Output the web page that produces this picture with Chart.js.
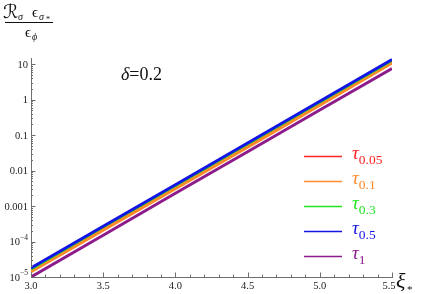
<!DOCTYPE html>
<html>
<head>
<meta charset="utf-8">
<script src="https://cdn.jsdelivr.net/npm/chart.js@4/dist/chart.umd.min.js"></script>
<style>
    html, body { margin: 0; padding: 0; background: #fff; }
</style>
</head>
<body>
<canvas id="chart" width="421" height="294"></canvas>
<script>
// xi_* values along the x axis
const xi = [3.0, 3.5, 4.0, 4.5, 5.0, 5.5];

// R_sigma eps_sigma* / eps_phi
const tau005 = [1.5e-5, 2.2e-4, 3.3e-3, 0.049, 0.74, 11.4];
const tau01  = [1.4e-5, 2.1e-4, 3.1e-3, 0.046, 0.70, 10.8];
const tau03  = [1.7e-5, 2.6e-4, 3.8e-3, 0.057, 0.86, 12.9];
const tau05  = [1.8e-5, 2.7e-4, 4.0e-3, 0.060, 0.90, 13.5];
const tau1   = [1.0e-5, 1.5e-4, 2.3e-3, 0.034, 0.51, 7.6];

const seriesNames = ['0.05', '0.1', '0.3', '0.5', '1'];
const seriesColors = ['#ff2424', '#ff8a2a', '#1fe61f', '#1414e6', '#8c1c8c'];
const seriesData = [tau005, tau01, tau03, tau05, tau1];
const drawOrder = [3, 2, 1, 0, 4];

const xTicks = [3.0, 3.5, 4.0, 4.5, 5.0, 5.5];
const yTicks = [
    { v: 10, base: '10', exp: '' },
    { v: 1, base: '1', exp: '' },
    { v: 0.1, base: '0.1', exp: '' },
    { v: 0.01, base: '0.01', exp: '' },
    { v: 0.001, base: '0.001', exp: '' },
    { v: 1e-4, base: '10', exp: '\u22124' },
    { v: 1e-5, base: '10', exp: '\u22125' }
];

const SERIF = '"Liberation Serif", "DejaVu Serif", serif';
const AXIS_COLOR = '#6e6e6e';

// Inward ticks, tick labels, fraction label, delta note and legend
const decorPlugin = {
    id: 'decor',
    afterDraw(chart) {
        const ctx = chart.ctx;
        const xs = chart.scales.x;
        const ys = chart.scales.y;
        const area = chart.chartArea;
        ctx.save();

        // x ticks (every 0.1, major every 0.5)
        ctx.strokeStyle = AXIS_COLOR;
        ctx.lineWidth = 1;
        for (let i = 0; i <= 25; i++) {
            const v = 3 + i * 0.1;
            const px = Math.round(xs.getPixelForValue(v)) + 0.5;
            const len = (i % 5 === 0) ? 4.5 : 2.5;
            ctx.beginPath();
            ctx.moveTo(px, area.bottom);
            ctx.lineTo(px, area.bottom - len);
            ctx.stroke();
        }

        // y ticks on log scale
        for (let n = -5; n <= 1; n++) {
            for (let k = 1; k <= 9; k++) {
                const v = k * Math.pow(10, n);
                if (v < ys.min || v > ys.max) continue;
                const py = Math.round(ys.getPixelForValue(v)) + 0.5;
                const len = k === 1 ? 4.5 : 2;
                ctx.beginPath();
                ctx.moveTo(area.left, py);
                ctx.lineTo(area.left + len, py);
                ctx.stroke();
            }
        }

        // x tick labels
        ctx.fillStyle = '#222';
        ctx.textBaseline = 'middle';
        ctx.textAlign = 'center';
        ctx.font = '10.5px ' + SERIF;
        xTicks.forEach(v => {
            const px = xs.getPixelForValue(v) - (v === 5.5 ? 3 : 0);
            ctx.fillText(v.toFixed(1), px, area.bottom + 9);
        });

        // y tick labels with superscripts
        yTicks.forEach(t => {
            const py = ys.getPixelForValue(t.v);
            const right = area.left - 3;
            ctx.font = '10.5px ' + SERIF;
            if (t.exp) {
                ctx.font = '7.5px ' + SERIF;
                const ew = ctx.measureText(t.exp).width;
                ctx.textAlign = 'left';
                ctx.fillText(t.exp, right - ew, py - 4);
                ctx.font = '10.5px ' + SERIF;
                ctx.textAlign = 'right';
                ctx.fillText(t.base, right - ew, py + 1);
            } else {
                ctx.textAlign = 'right';
                ctx.fillText(t.base, right, py + 1);
            }
        });

        // y axis label as a fraction
        ctx.textBaseline = 'alphabetic';
        ctx.textAlign = 'left';
        ctx.fillStyle = '#111';
        ctx.font = '19px "DejaVu Sans", ' + SERIF;
        ctx.fillText('\u211B', 3, 18);
        ctx.font = 'italic 10px ' + SERIF;
        ctx.fillText('\u03C3', 18, 20);
        ctx.font = '15px ' + SERIF;
        ctx.fillText('\u03F5', 32, 17);
        ctx.font = 'italic 10px ' + SERIF;
        ctx.fillText('\u03C3', 39, 20);
        ctx.font = '8px ' + SERIF;
        ctx.fillText('*', 46, 22);
        ctx.strokeStyle = '#111';
        ctx.lineWidth = 1.2;
        ctx.beginPath();
        ctx.moveTo(5, 22.5);
        ctx.lineTo(53, 22.5);
        ctx.stroke();
        ctx.font = '15px ' + SERIF;
        ctx.fillText('\u03F5', 25, 37);
        ctx.font = 'italic 10px ' + SERIF;
        ctx.fillText('\u03D5', 32, 40);

        // delta note
        ctx.font = 'italic 18px ' + SERIF;
        ctx.fillText('\u03B4', 121, 80);
        const dw = ctx.measureText('\u03B4').width;
        ctx.font = '18px ' + SERIF;
        ctx.fillText('=0.2', 121 + dw, 80);

        // x axis label
        ctx.font = 'italic 22px ' + SERIF;
        ctx.fillText('\u03BE', 396, 288);
        ctx.font = '11px ' + SERIF;
        ctx.fillText('*', 407, 293);

        // legend
        const legY = [156, 181, 206, 231, 256];
        seriesNames.forEach((name, i) => {
            const y = legY[i];
            ctx.strokeStyle = seriesColors[i];
            ctx.lineWidth = 1.5;
            ctx.beginPath();
            ctx.moveTo(304, y + 0.5);
            ctx.lineTo(342, y + 0.5);
            ctx.stroke();
            ctx.fillStyle = seriesColors[i];
            ctx.font = 'italic 19px ' + SERIF;
            ctx.fillText('\u03C4', 352, y + 3);
            const tw = ctx.measureText('\u03C4').width;
            ctx.font = '13.5px ' + SERIF;
            ctx.fillText(name, 352 + tw, y + 8);
        });

        ctx.restore();
    }
};

const datasets = seriesData.map((vals, i) => ({
    label: seriesNames[i],
    data: xi.map((x, j) => ({ x: x, y: vals[j] })),
    borderColor: seriesColors[i],
    backgroundColor: seriesColors[i],
    borderWidth: 3,
    pointRadius: 0,
    fill: false,
    tension: 0,
    order: drawOrder[i]
}));

new Chart(document.getElementById('chart').getContext('2d'), {
    type: 'line',
    data: { datasets: datasets },
    options: {
        responsive: false,
        animation: false,
        layout: { padding: { left: 0, right: 29, top: 58, bottom: 0 } },
        plugins: {
            legend: { display: false },
            tooltip: { enabled: false }
        },
        scales: {
            x: {
                type: 'linear',
                min: 3,
                max: 5.5,
                afterFit: (scale) => { scale.height = 17; },
                ticks: { display: false },
                grid: { display: false },
                border: { display: true, color: AXIS_COLOR, width: 1 }
            },
            y: {
                type: 'logarithmic',
                min: 1e-5,
                max: 15,
                afterFit: (scale) => { scale.width = 31; },
                ticks: { display: false },
                grid: { display: false },
                border: { display: true, color: AXIS_COLOR, width: 1 }
            }
        }
    },
    plugins: [decorPlugin]
});
</script>
</body>
</html>
